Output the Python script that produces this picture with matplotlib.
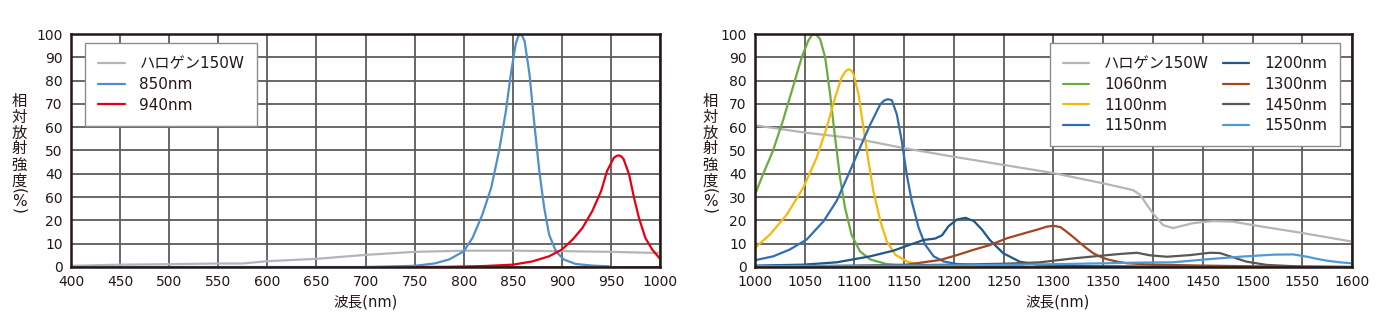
import matplotlib
matplotlib.use('Agg')
import matplotlib.pyplot as plt

plt.rcParams['font.family'] = ['DejaVu Sans', 'Noto Sans CJK JP']

## data: left chart (400-1000nm)
halogen_l_x = [400, 450, 500, 550, 575, 600, 650, 700, 750, 800, 850, 900, 950, 1000]
halogen_l_y = [0.5, 1.0, 1.2, 1.5, 1.5, 2.5, 3.5, 5.2, 6.5, 7.0, 7.0, 6.8, 6.5, 6.0]

led850_x = [400, 700, 750, 770, 785, 800, 809, 819, 828, 836, 843, 848, 853, 855.5, 857.5, 859.5,
            862, 867, 872, 877, 882, 887, 894, 902, 914, 931, 948]
led850_y = [0, 0, 0.5, 1.5, 3.2, 6.7, 12.5, 22.5, 34, 49.8, 67, 82.8, 95.7, 99, 100, 99.2,
            97, 82.8, 61.3, 41.2, 25.4, 13.9, 6.7, 3.2, 1.3, 0.6, 0.3]

led940_x = [752, 785, 820, 850, 870, 887, 900, 911, 921, 931, 940, 946, 953, 956, 958, 960.5, 963,
            968.5, 973.5, 978.5, 985, 992, 1000]
led940_y = [0, 0.1, 0.4, 1.0, 2.4, 4.6, 7.5, 11.8, 16.8, 24, 32.6, 41.2, 46.9, 47.7, 47.9, 47.5, 46.2,
            39.7, 29.7, 21.1, 12.5, 7.5, 3.5]

## data: right chart (1000-1600nm)
halogen_r_x = [1000, 1050, 1100, 1150, 1200, 1250, 1300, 1350, 1380, 1387, 1395, 1400, 1410, 1420,
               1440, 1460, 1480, 1500, 1550, 1600]
halogen_r_y = [60.8, 57.7, 55.2, 51.0, 47.3, 43.8, 40.3, 35.9, 33.0, 31.0, 26.0, 23.0, 18.0, 16.7,
               18.8, 19.7, 19.5, 18.0, 14.6, 10.9]

led1060_x = [1000, 1008, 1018, 1028, 1038, 1047, 1053.5, 1057, 1059.5, 1062, 1065.5, 1070.5, 1075.5,
             1080.5, 1085.5, 1090.5, 1097, 1105.5, 1116, 1132, 1149, 1183, 1220]
led1060_y = [31.1, 39.7, 49.8, 62.7, 77, 90, 97.1, 99.4, 100, 99.5, 97.8, 90, 74.2,
             55.5, 38.3, 25.4, 13.9, 6.7, 3.2, 1.3, 0.6, 0.2, 0]

led1100_x = [1000, 1015, 1032, 1048.5, 1062, 1072, 1080.5, 1087, 1091, 1094, 1097, 1099, 1104,
             1109, 1114, 1119, 1126, 1132.5, 1141, 1152.5, 1166, 1186, 1218, 1260]
led1100_y = [8.2, 13.9, 22.5, 34, 46.9, 59.8, 72.7, 81.3, 84.0, 84.9, 84.2, 82.8, 74.2,
             59.8, 45.5, 32.6, 19.7, 11, 5.3, 2.4, 1.0, 0.4, 0.1, 0]

led1150_x = [1000, 1018.5, 1035, 1052, 1069, 1082, 1095.5, 1105.5, 1116, 1126, 1130, 1133.5, 1137.5,
             1142.5, 1147.5, 1152.5, 1157.5, 1164.5, 1171, 1179.5, 1189.5, 1203, 1226.5, 1270]
led1150_y = [2.9, 4.6, 7.5, 11.8, 19.7, 28.3, 41.2, 51.2, 61.3, 69.9, 71.5, 72, 71.6,
             65.6, 54.1, 39.7, 28.3, 16.8, 9.6, 4.6, 2.4, 1.3, 0.6, 0.2]

led1200_x = [1000, 1048.5, 1082, 1116, 1139, 1156, 1169.5, 1181, 1188, 1194.5, 1203, 1211.5,
             1220, 1228, 1236, 1249.5, 1266, 1283, 1320, 1400, 1450]
led1200_y = [0.6, 1.0, 2.0, 4.6, 7.0, 9.6, 11.6, 12.2, 13.6, 17.5, 20.4, 21.1,
             19.7, 16.1, 11.6, 5.9, 2.3, 1.0, 0.4, 0.2, 0]

led1300_x = [1000, 1100, 1152, 1169, 1186, 1203, 1219, 1236, 1253, 1270, 1285, 1293, 1300, 1307,
             1313, 1320, 1327, 1334, 1340, 1347, 1354, 1364, 1374, 1400, 1450, 1500, 1600]
led1300_y = [0, 0.5, 1.0, 2.0, 3.0, 5.1, 7.3, 9.4, 12.3, 14.4, 16.2, 17.3, 17.7, 17.1,
             15.2, 12.8, 10.2, 7.8, 5.9, 4.4, 3.3, 2.3, 1.6, 1.0, 0.6, 0.3, 0]

led1450_x = [1000, 1100, 1200, 1250, 1286, 1320, 1354, 1370, 1384, 1397, 1414, 1437, 1457, 1467,
             1481, 1494, 1514, 1548, 1600]
led1450_y = [0.3, 0.5, 1.0, 1.4, 2.0, 3.7, 5.1, 5.7, 6.1, 5.0, 4.4, 5.1, 6.1, 6.0,
             4.1, 2.3, 0.9, 0.2, 0]

led1550_x = [1000, 1100, 1200, 1250, 1286, 1340, 1387, 1420, 1454, 1487, 1521, 1541, 1555, 1566,
             1575, 1588, 1600]
led1550_y = [0.4, 0.5, 0.7, 0.9, 1.1, 1.5, 1.9, 2.0, 3.3, 4.4, 5.3, 5.4, 4.4, 3.4,
             2.7, 2.0, 1.6]

y_ticks = [0, 10, 20, 30, 40, 50, 60, 70, 80, 90, 100]
y_labels_left = ['0', '10', '20', '60', '40', '50', '60', '70', '80', '90', '100']
y_labels_right = ['0', '10', '20', '30', '40', '50', '60', '70', '80', '90', '100']
x_ticks_left = list(range(400, 1001, 50))
x_ticks_right = list(range(1000, 1601, 50))

## colours
C_HALOGEN = '#b5b5b6'
C_850 = '#4f8fcc'
C_940 = '#e60012'
C_1060 = '#6aac3f'
C_1100 = '#f6b90e'
C_1150 = '#2f6db6'
C_1200 = '#1e5788'
C_1300 = '#a4461f'
C_1450 = '#5a5757'
C_1550 = '#4c9bd8'

TXT = '#231815'
GRID = '#5f5a59'

fig = plt.figure(figsize=(13.82, 3.35), dpi=100)
ax1 = fig.add_axes([0.0514, 0.203, 0.4262, 0.6955])
ax2 = fig.add_axes([0.5463, 0.203, 0.4320, 0.6955])


def setup(ax, xticks, ylabels):
	ax.set_xlim(xticks[0], xticks[-1])
	ax.set_ylim(0, 100)
	ax.set_xticks(xticks)
	ax.set_yticks(y_ticks)
	ax.set_yticklabels(ylabels)
	ax.tick_params(length=0, labelsize=10, colors=TXT, pad=6)
	ax.grid(True, color=GRID, linewidth=1.3, zorder=0)
	ax.set_axisbelow(True)
	for sp in ax.spines.values():
		sp.set_color(TXT)
		sp.set_linewidth(1.8)
		sp.set_zorder(5)


setup(ax1, x_ticks_left, y_labels_left)
setup(ax2, x_ticks_right, y_labels_right)

lw = 1.6
line_kw = dict(lw=lw, solid_joinstyle='round', solid_capstyle='round')
ax1.plot(halogen_l_x, halogen_l_y, color=C_HALOGEN, label='ハロゲン150W', **line_kw)
ax1.plot(led850_x, led850_y, color=C_850, label='850nm', **line_kw)
ax1.plot(led940_x, led940_y, color=C_940, label='940nm', **line_kw)

ax2.plot(halogen_r_x, halogen_r_y, color=C_HALOGEN, label='ハロゲン150W', **line_kw)
ax2.plot(led1060_x, led1060_y, color=C_1060, label='1060nm', **line_kw)
ax2.plot(led1100_x, led1100_y, color=C_1100, label='1100nm', **line_kw)
ax2.plot(led1150_x, led1150_y, color=C_1150, label='1150nm', **line_kw)
ax2.plot(led1200_x, led1200_y, color=C_1200, label='1200nm', **line_kw)
ax2.plot(led1300_x, led1300_y, color=C_1300, label='1300nm', **line_kw)
ax2.plot(led1450_x, led1450_y, color=C_1450, label='1450nm', **line_kw)
ax2.plot(led1550_x, led1550_y, color=C_1550, label='1550nm', **line_kw)

leg_kw = dict(fontsize=11, frameon=True, fancybox=False, framealpha=1, edgecolor='#8c8c8c',
              borderaxespad=0, handlelength=1.75, handletextpad=0.95, labelspacing=0.38,
              borderpad=0.85, labelcolor=TXT)
l1 = ax1.legend(loc='upper left', bbox_to_anchor=(0.024, 0.961), **leg_kw)
l2 = ax2.legend(loc='upper right', bbox_to_anchor=(0.98, 0.961), ncol=2, columnspacing=0.9, **leg_kw)
for leg in (l1, l2):
	leg.get_frame().set_linewidth(1.0)
	leg.set_zorder(6)

## vertical axis titles, one glyph per row
ylab_chars = ['相', '対', '放', '射', '強', '度']
for xpos in (19, 710):
	for i, ch in enumerate(ylab_chars):
		fig.text(xpos / 1382, 1 - (101 + 16 * i) / 335, ch, ha='center', va='center',
		         fontsize=11, color=TXT, family='Noto Sans CJK JP')
	fig.text(xpos / 1382, 1 - 191 / 335, '(', ha='center', va='center', rotation=270,
	         fontsize=11, color=TXT)
	fig.text(xpos / 1382, 1 - 201 / 335, '%', ha='center', va='center', fontsize=11, color=TXT)
	fig.text(xpos / 1382, 1 - 211 / 335, ')', ha='center', va='center', rotation=270,
	         fontsize=11, color=TXT)

fig.text(366 / 1382, 1 - 302 / 335, '波長(nm)', ha='center', va='center', fontsize=10.5, color=TXT)
fig.text(1058 / 1382, 1 - 302 / 335, '波長(nm)', ha='center', va='center', fontsize=10.5, color=TXT)

fig.savefig('out.png', dpi=100, facecolor='white')
